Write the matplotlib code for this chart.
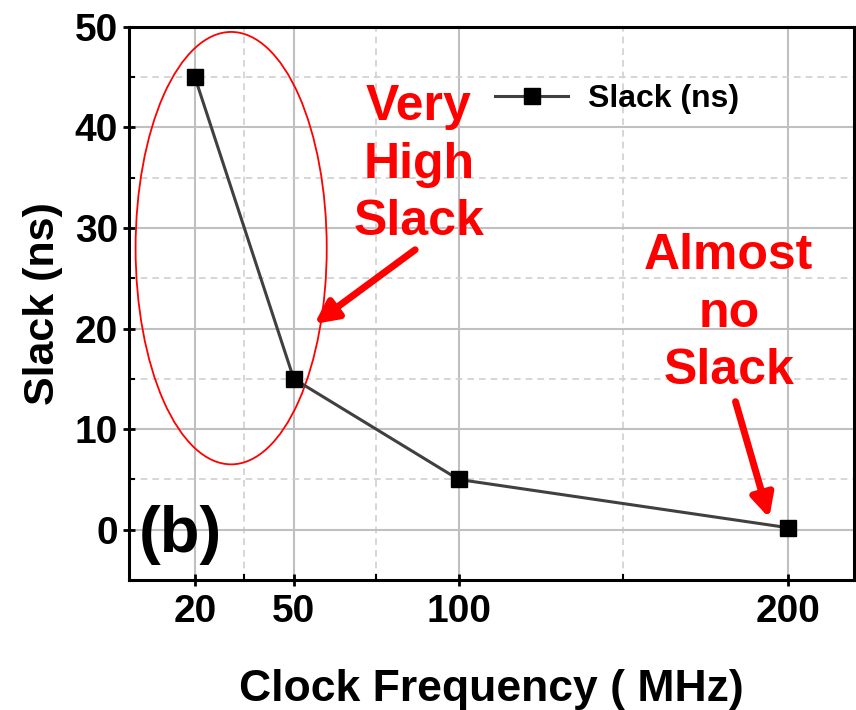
import matplotlib.pyplot as plt
from matplotlib.patches import Ellipse

plt.rcParams['font.family'] = ['Liberation Sans', 'DejaVu Sans']
plt.rcParams['font.weight'] = 'bold'

# data
freq_mhz = [20, 50, 100, 200]
slack_ns = [45, 15, 5, 0.2]
x_major = [20, 50, 100, 200]
x_minor = [35, 75, 150]

fig = plt.figure(figsize=(8.56, 7.1), dpi=100)
ax = fig.add_axes([0.1507, 0.1831, 0.847, 0.779])

ax.plot(freq_mhz, slack_ns, color='#404040', lw=2.2, marker='s',
        markersize=11, markerfacecolor='black', markeredgecolor='black',
        label='Slack (ns)', zorder=3)

ax.set_xlim(0, 220)
ax.set_ylim(-5, 50)
ax.set_xticks(x_major)
ax.set_xticks(x_minor, minor=True)
ax.set_yticks(range(0, 51, 10))
ax.set_yticks(range(5, 50, 10), minor=True)

ax.grid(which='major', color='#c0c0c0', lw=1.5, ls='-')
ax.grid(which='minor', color='#d0d0d0', lw=1.2, ls=(0, (4, 3)))
ax.set_axisbelow(True)

for s in ax.spines.values():
    s.set_linewidth(2.2)
ax.tick_params(axis='both', which='major', labelsize=28, width=2, length=8,
               direction='inout')
ax.tick_params(axis='both', which='minor', width=1.5, length=4, direction='in')
ax.tick_params(axis='x', pad=6)
ax.tick_params(axis='y', pad=4)
for lab in ax.get_xticklabels() + ax.get_yticklabels():
    lab.set_fontweight('bold')

ax.set_xlabel('Clock Frequency ( MHz)', fontsize=32, fontweight='bold', labelpad=28)
ax.set_ylabel('Slack (ns)', fontsize=31, fontweight='bold', labelpad=8)

ax.legend(loc='upper left', bbox_to_anchor=(0.465, 0.948), frameon=False,
          handlelength=2.3, handletextpad=0.6,
          prop={'weight': 'bold', 'size': 23})

# annotations
ax.add_patch(Ellipse((31, 28), 58, 43, fill=False, edgecolor='red', lw=1.3))
ax.text(88, 36.3, 'Very\nHigh\nSlack', color='red', fontsize=36,
        fontweight='bold', ha='center', va='center', linespacing=1.32)
ax.text(182, 21.5, 'Almost\nno\nSlack', color='red', fontsize=36,
        fontweight='bold', ha='center', va='center', linespacing=1.32)
ax.annotate('', xy=(55.6, 20.3), xytext=(87.5, 28.0),
            arrowprops=dict(arrowstyle='-|>', color='red', lw=5,
                            mutation_scale=34))
ax.annotate('', xy=(194.5, 0.9), xytext=(183.8, 13.0),
            arrowprops=dict(arrowstyle='-|>', color='red', lw=5,
                            mutation_scale=34))
ax.text(3, -0.5, '(b)', fontsize=47, fontweight='bold', color='black',
        ha='left', va='center')

fig.savefig('out.png', dpi=100)
